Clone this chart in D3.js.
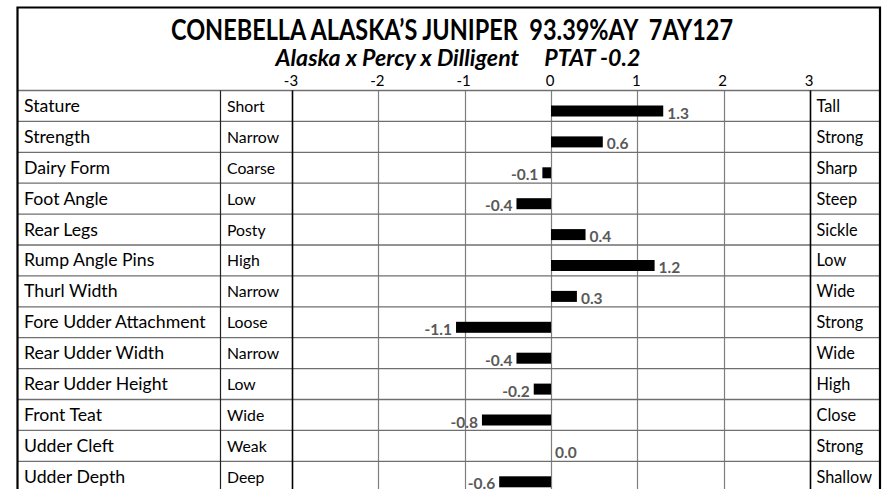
<!DOCTYPE html>
<html>
<head>
<meta charset="utf-8">
<script src="https://cdn.jsdelivr.net/npm/d3@7"></script>
<style>
  html, body { margin: 0; padding: 0; background: #fff; overflow: hidden; }
  svg { display: block; font-family: Lato, "Liberation Sans", sans-serif; }
</style>
</head>
<body>
<svg id="chart" width="884" height="489"></svg>
<script>
const titleText = "CONEBELLA ALASKA\u2019S JUNIPER  93.39%AY  7AY127";
const subtitleLeft = "Alaska x Percy x Dilligent";
const subtitleRight = "PTAT -0.2";
const traits = ["Stature","Strength","Dairy Form","Foot Angle","Rear Legs","Rump Angle Pins","Thurl Width","Fore Udder Attachment","Rear Udder Width","Rear Udder Height","Front Teat","Udder Cleft","Udder Depth"];
const lowLabels = ["Short","Narrow","Coarse","Low","Posty","High","Narrow","Loose","Narrow","Low","Wide","Weak","Deep"];
const highLabels = ["Tall","Strong","Sharp","Steep","Sickle","Low","Wide","Strong","Wide","High","Close","Strong","Shallow"];
const values = [1.3,0.6,-0.1,-0.4,0.4,1.2,0.3,-1.1,-0.4,-0.2,-0.8,0.0,-0.6];
const tickValues = [-3,-2,-1,0,1,2,3];

(function () {
const svg = d3.select("#chart");
const W = 884, H = 489;
const bLeft = 17.5, bRight = 880, bTop = 7.5, tableTop = 90.5, rowH = 30.9;
const colA = 220, colB = 292, colC = 810;
const fmt = v => d3.format(".1f")(v).replace("\u2212", "-");

const x = d3.scaleLinear().domain([-3, 3]).range([colB, colC]);
const y = d3.scaleBand().domain(traits).range([tableTop, tableTop + rowH * traits.length]).padding(0);

// titles
svg.append("text").attr("x", 452).attr("y", 40)
  .attr("text-anchor", "middle").attr("font-size", 28).attr("font-weight", 700)
  .attr("fill", "#000").attr("xml:space", "preserve")
  .attr("textLength", 562).attr("lengthAdjust", "spacingAndGlyphs")
  .text(titleText);
svg.append("text").attr("x", 458).attr("y", 66)
  .attr("text-anchor", "middle").attr("font-size", 22).attr("font-weight", 700)
  .attr("font-style", "italic").attr("fill", "#000")
  .attr("xml:space", "preserve")
  .attr("textLength", 365).attr("lengthAdjust", "spacingAndGlyphs")
  .text(subtitleLeft + "     " + subtitleRight);

// grid lines (vertical, inner)
const grid = svg.append("g");
grid.selectAll("line.v").data(tickValues.filter(d => d > -3 && d < 3)).join("line")
  .attr("x1", d => Math.round(x(d)) + 0.5).attr("x2", d => Math.round(x(d)) + 0.5)
  .attr("y1", tableTop).attr("y2", H)
  .attr("stroke", "#7f7f7f").attr("stroke-width", 1.2);

// horizontal row lines
grid.selectAll("line.h").data(traits).join("line")
  .attr("x1", bLeft).attr("x2", bRight)
  .attr("y1", d => y(d)).attr("y2", d => y(d))
  .attr("stroke", "#6f6f6f").attr("stroke-width", 1.3);

// column dividers
svg.append("line").attr("x1", colA + 0.5).attr("x2", colA + 0.5).attr("y1", tableTop).attr("y2", H)
  .attr("stroke", "#222").attr("stroke-width", 1.2);
svg.append("line").attr("x1", colB + 0.5).attr("x2", colB + 0.5).attr("y1", tableTop).attr("y2", H)
  .attr("stroke", "#000").attr("stroke-width", 1.6);
svg.append("line").attr("x1", colC + 0.5).attr("x2", colC + 0.5).attr("y1", tableTop).attr("y2", H)
  .attr("stroke", "#000").attr("stroke-width", 1.6);

// outer border
svg.append("path")
  .attr("d", `M${bLeft},${H} V${bTop} H${bRight} V${H}`)
  .attr("fill", "none").attr("stroke", "#000").attr("stroke-width", 2.2);

// axis tick labels
const axis = d3.axisTop(x).tickValues(tickValues).tickSize(0).tickPadding(0)
  .tickFormat(d => String(d));
const ag = svg.append("g").attr("transform", `translate(-1.5,${86})`).call(axis);
ag.select(".domain").remove();
ag.selectAll("text").attr("font-size", 15).attr("fill", "#000").attr("font-family", "Lato, sans-serif").attr("dy", 0);

// trait names
const rows = svg.append("g");
rows.selectAll("text.trait").data(traits).join("text")
  .attr("x", 24).attr("y", d => y(d) + rowH / 2 + 6)
  .attr("font-size", 17.7).attr("fill", "#000").text(d => d);
rows.selectAll("text.low").data(lowLabels).join("text")
  .attr("x", 227).attr("y", (d, i) => y(traits[i]) + rowH / 2 + 6)
  .attr("font-size", 15.8).attr("fill", "#000").text(d => d);
rows.selectAll("text.high").data(highLabels).join("text")
  .attr("x", 816.5).attr("y", (d, i) => y(traits[i]) + rowH / 2 + 6)
  .attr("font-size", 16.3).attr("fill", "#000").text(d => d);

// bars
const bars = svg.append("g");
bars.selectAll("rect").data(values).join("rect")
  .attr("x", d => x(Math.min(0, d)))
  .attr("width", d => Math.abs(x(d) - x(0)))
  .attr("y", (d, i) => y(traits[i]) + 15)
  .attr("height", 11)
  .attr("fill", "#000");

// value labels
bars.selectAll("text").data(values).join("text")
  .attr("x", d => d < 0 ? x(d) - 4 : x(d) + 4)
  .attr("y", (d, i) => y(traits[i]) + 28)
  .attr("text-anchor", d => d < 0 ? "end" : "start")
  .attr("font-size", 15.5).attr("font-weight", 700).attr("fill", "#595959")
  .text(d => fmt(d));
})();
</script>
</body>
</html>
